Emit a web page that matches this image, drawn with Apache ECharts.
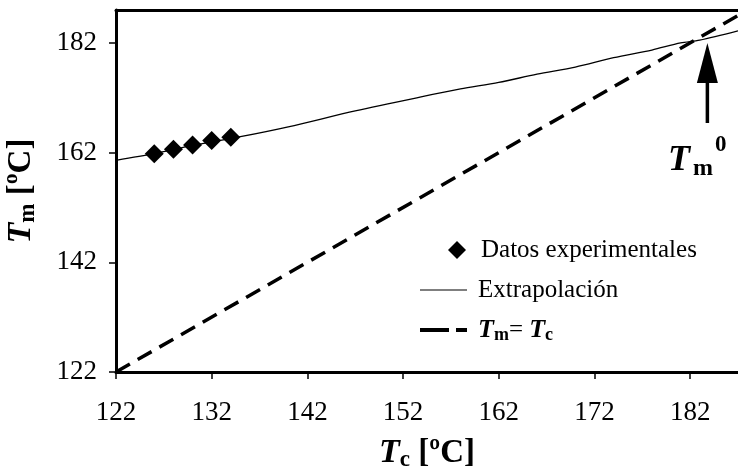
<!DOCTYPE html>
<html><head><meta charset="utf-8">
<script src="https://cdn.jsdelivr.net/npm/echarts@6/dist/echarts.min.js"></script>
<style>html,body{margin:0;padding:0;background:#fff}#c{width:738px;height:472px}</style>
</head><body><div id="c"></div>
<script>
// ---- data ----
const xTicks = [122, 132, 142, 152, 162, 172, 182];
const yTicks = [122, 142, 162, 182];
const expTc = [126, 128, 130, 132, 134];
const expTm = [161.8, 162.6, 163.4, 164.2, 164.8];
const curveTc = [122, 126, 130, 135, 140, 147, 154, 158, 162, 166, 170, 174, 178, 181, 183, 187];
const curveTm = [160.6, 161.8, 163.3, 164.9, 166.7, 169.6, 172.2, 173.6, 174.8, 176.3, 177.6, 179.3, 180.7, 182.0, 182.5, 184.2];
const diagTc = [122, 187];
const diagTm = [122, 187];
const arrowTc = 183.8, arrowFromTm = 167.4, arrowToTm = 182.0;
const seriesNames = ['Datos experimentales', 'Extrapolación', 'Tm= Tc'];

const FONT = 'Liberation Serif';
const zip = (a, b) => a.map((v, i) => [v, b[i]]);

const chart = echarts.init(document.getElementById('c'), null, {renderer: 'canvas'});
const nameRich = {
  t: {fontFamily: FONT, fontSize: 34, fontWeight: 'bold', fontStyle: 'italic', color: '#000', lineHeight: 38},
  s: {fontFamily: FONT, fontSize: 23, fontWeight: 'bold', color: '#000', lineHeight: 18, verticalAlign: 'bottom'},
  u: {fontFamily: FONT, fontSize: 33, fontWeight: 'bold', color: '#000', lineHeight: 38}
};
const legendText = {
  fontFamily: FONT, fontSize: 25, color: '#000', lineHeight: 28, padding: [0, 0, 0, 6],
  rich: {
    t: {fontFamily: FONT, fontSize: 26, fontStyle: 'italic', fontWeight: 'bold', color: '#000', lineHeight: 28},
    s: {fontFamily: FONT, fontSize: 18, fontWeight: 'bold', color: '#000', lineHeight: 16, verticalAlign: 'bottom'},
    n: {fontFamily: FONT, fontSize: 25, color: '#000', lineHeight: 28}
  }
};
const option = {
  animation: false,
  backgroundColor: '#fff',
  grid: {left: 116, right: 0, top: 10, bottom: 100, containLabel: false, outerBoundsMode: 'none'},
  xAxis: [{
    type: 'value', min: 122, max: 187, position: 'bottom',
    name: '{t|T}{s|c}{u| [ºC]}', nameLocation: 'middle', nameGap: 62,
    nameTextStyle: {rich: nameRich},
    axisLine: {show: true, onZero: false, lineStyle: {color: '#000', width: 3}},
    axisTick: {show: true, length: 7, inside: false, customValues: xTicks, lineStyle: {color: '#000', width: 1.5}},
    axisLabel: {customValues: xTicks, margin: 27, fontFamily: FONT, fontSize: 27, color: '#000'},
    splitLine: {show: false}
  }, {
    type: 'value', min: 122, max: 187, position: 'top',
    axisLine: {show: true, onZero: false, lineStyle: {color: '#000', width: 3}},
    axisTick: {show: false}, axisLabel: {show: false}, splitLine: {show: false}
  }],
  yAxis: {
    type: 'value', min: 122, max: 188,
    name: '{t|T}{s|m}{u| [ºC]}', nameLocation: 'middle', nameGap: 76, nameRotate: 90,
    nameTextStyle: {rich: nameRich},
    axisLine: {show: true, onZero: false, lineStyle: {color: '#000', width: 3}},
    axisTick: {show: true, length: 7, customValues: yTicks, lineStyle: {color: '#000', width: 1.5}},
    axisLabel: {customValues: yTicks, margin: 19, fontFamily: FONT, fontSize: 27, color: '#000'},
    splitLine: {show: false}
  },
  legend: [{
    orient: 'vertical', left: 443, top: 231, itemWidth: 18, itemHeight: 18, itemGap: 12,
    data: [{name: seriesNames[0], icon: 'diamond'}],
    itemStyle: {opacity: 1, color: '#000'},
    textStyle: Object.assign({}, legendText, {padding: [0, 0, 0, 10]})
  }, {
    orient: 'vertical', left: 415, top: 271, itemWidth: 47, itemHeight: 17, itemGap: 12,
    data: [
      {name: seriesNames[1], icon: 'path://M0,0 H47 V1.2 H0 Z'},
      {name: seriesNames[2], icon: 'path://M0,0 H29 V4 H0 Z M36,0 H47 V4 H36 Z'}
    ],
    itemStyle: {color: '#000', opacity: 1},
    textStyle: legendText,
    formatter: function (name) {
      if (name === 'Tm= Tc') return '{t|T}{s|m}{n|= }{t|T}{s|c}';
      return name;
    }
  }],
  series: [{
    name: seriesNames[0], type: 'scatter', symbol: 'diamond', symbolSize: 19,
    itemStyle: {color: '#000', opacity: 1}, data: zip(expTc, expTm), z: 5
  }, {
    name: seriesNames[1], type: 'line', symbol: 'none', smooth: 0.3,
    lineStyle: {color: '#000', width: 1.3}, itemStyle: {color: '#000'}, data: zip(curveTc, curveTm)
  }, {
    name: seriesNames[2], type: 'line', symbol: 'none',
    lineStyle: {color: '#000', width: 3.5, type: [16, 9]}, itemStyle: {color: '#000'}, data: zip(diagTc, diagTm)
  }]
};
chart.setOption(option);

const tip = chart.convertToPixel({xAxisIndex: 0, yAxisIndex: 0}, [arrowTc, arrowToTm]);
const base = chart.convertToPixel({xAxisIndex: 0, yAxisIndex: 0}, [arrowTc, arrowFromTm]);
const headLen = 40, headW = 21;
chart.setOption({
  graphic: [
    {type: 'polygon', shape: {points: [[tip[0], tip[1]], [tip[0] - headW / 2, tip[1] + headLen], [tip[0] + headW / 2, tip[1] + headLen]]}, style: {fill: '#000'}, z: 10},
    {type: 'line', shape: {x1: tip[0], y1: tip[1] + headLen - 2, x2: base[0], y2: base[1]}, style: {stroke: '#000', lineWidth: 3.5}, z: 10},
    {type: 'text', x: 668, y: 161, style: {text: 'T', font: 'italic bold 36px "Liberation Serif"', fill: '#000', verticalAlign: 'middle'}, z: 10},
    {type: 'text', x: 693, y: 169, style: {text: 'm', font: 'bold 24px "Liberation Serif"', fill: '#000', verticalAlign: 'middle'}, z: 10},
    {type: 'text', x: 715, y: 145, style: {text: '0', font: 'bold 23px "Liberation Serif"', fill: '#000', verticalAlign: 'middle'}, z: 10}
  ]
});
</script>
</body></html>
